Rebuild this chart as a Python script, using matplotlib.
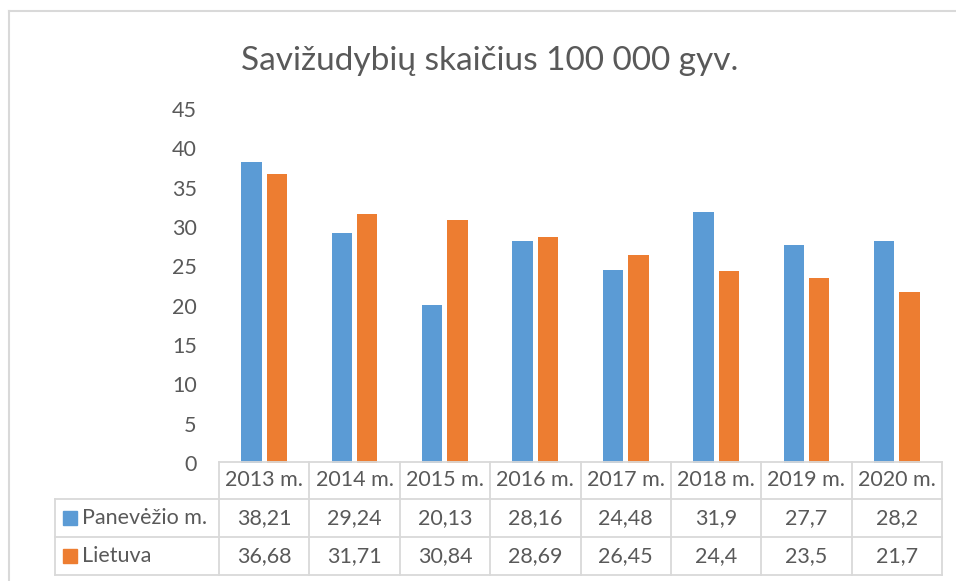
import numpy as np
import matplotlib.pyplot as plt
from matplotlib.lines import Line2D
from matplotlib.patches import Rectangle

years = ["2013 m.", "2014 m.", "2015 m.", "2016 m.", "2017 m.", "2018 m.", "2019 m.", "2020 m."]
panevezys = [38.21, 29.24, 20.13, 28.16, 24.48, 31.9, 27.7, 28.2]
lietuva = [36.68, 31.71, 30.84, 28.69, 26.45, 24.4, 23.5, 21.7]
series_names = ["Panevėžio m.", "Lietuva"]
yticks = [0, 5, 10, 15, 20, 25, 30, 35, 40, 45]

blue = "#5B9BD5"
orange = "#ED7D31"
txt = "#595959"
grid = "#D9D9D9"

plt.rcParams["font.family"] = ["Lato", "DejaVu Sans"]

W, H = 956, 581
fig = plt.figure(figsize=(W / 100, H / 100), dpi=100)


def fx(px):
    return px / W


def fy(py):
    return 1 - py / H


# plot area in pixels
left, right, top, bottom = 219, 942, 109, 463
ax = fig.add_axes([fx(left), fy(bottom), fx(right) - fx(left), fy(top) - fy(bottom)])
x = np.arange(len(years))
w = 0.225
ax.bar(x - 0.14, panevezys, w, color=blue)
ax.bar(x + 0.14, lietuva, w, color=orange)
ax.set_xlim(-0.5, len(years) - 0.5)
ax.set_ylim(0, 45)
ax.set_yticks(yticks)
ax.set_yticklabels([str(v) for v in yticks], fontsize=15.5, color=txt)
ax.tick_params(axis="y", length=0, pad=16)
ax.set_xticks([])
for s in ax.spines.values():
    s.set_visible(False)

fig.text(fx(490), fy(61), "Savižudybių skaičius 100 000 gyv.", ha="center", va="center",
         fontsize=24, color=txt)

# chart border
fig.add_artist(Line2D([fx(9), fx(9)], [fy(11), 0], color=grid, lw=1.5))
fig.add_artist(Line2D([fx(9), 1], [fy(11), fy(11)], color=grid, lw=1.5))

# data table
rows_y = [462, 499, 537, 575]
col_w = (right - left) / len(years)
cols_x = [left + i * col_w for i in range(len(years) + 1)]
tl = dict(color=grid, lw=1.3)
fig.add_artist(Line2D([fx(left), fx(right)], [fy(rows_y[0])] * 2, **tl))
for yy in rows_y[1:]:
    fig.add_artist(Line2D([fx(55), fx(right)], [fy(yy)] * 2, **tl))
for xx in cols_x:
    fig.add_artist(Line2D([fx(xx)] * 2, [fy(rows_y[0]), fy(rows_y[-1])], **tl))
fig.add_artist(Line2D([fx(55)] * 2, [fy(rows_y[1]), fy(rows_y[-1])], **tl))

for i, yr in enumerate(years):
    cx = (cols_x[i] + cols_x[i + 1]) / 2
    fig.text(fx(cx), fy((rows_y[0] + rows_y[1]) / 2), yr, ha="center", va="center",
             fontsize=15.5, color=txt)
    for r, vals in enumerate([panevezys, lietuva]):
        cy = (rows_y[r + 1] + rows_y[r + 2]) / 2
        fig.text(fx(cx), fy(cy), f"{vals[i]:g}".replace(".", ","), ha="center", va="center",
                 fontsize=15.5, color=txt)

for r, (name, c) in enumerate(zip(series_names, [blue, orange])):
    cy = (rows_y[r + 1] + rows_y[r + 2]) / 2
    fig.add_artist(Rectangle((fx(63), fy(cy + 7)), fx(14), 14 / H, color=c))
    fig.text(fx(82), fy(cy), name, ha="left", va="center", fontsize=15.5, color=txt)

fig.savefig("out.png", dpi=100)
